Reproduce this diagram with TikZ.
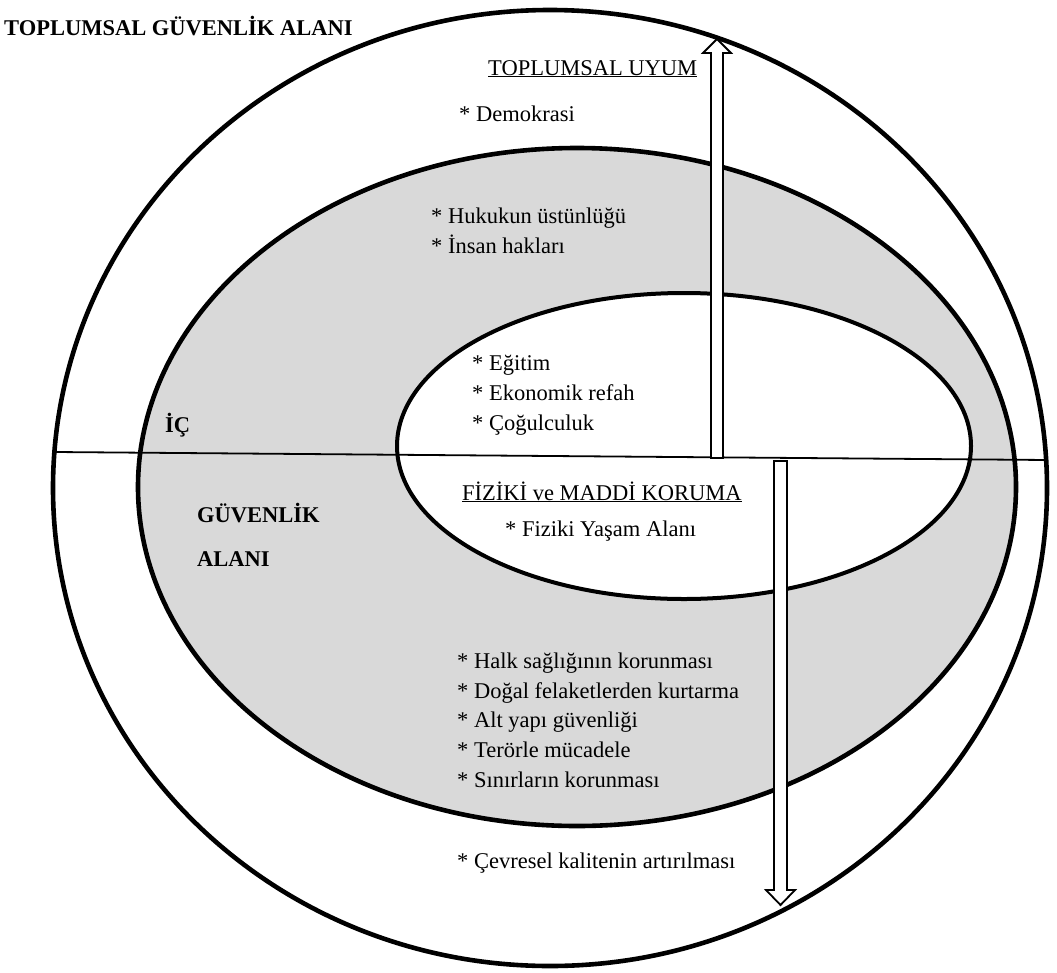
\documentclass[tikz,border=0pt]{standalone}
\usepackage{fontspec}
\setmainfont{Liberation Serif}
\begin{document}
\begin{tikzpicture}[x=1pt, y=-1pt,
        ring/.style={draw, line width=4.6pt},
        bar/.style={draw, line width=1.8pt, fill=white},
        txt/.style={anchor=base west, inner sep=0pt, font=\fontsize{22.5}{27}\selectfont},
        bold/.style={anchor=base west, inner sep=0pt, font=\fontsize{22.5}{27}\selectfont\bfseries}
    ]
        \useasboundingbox (0,0) rectangle (1057,972);

        % Halkalar
        \coordinate (outc) at (550,488);
        \coordinate (midc) at (577,487);
        \coordinate (inc) at (684,446);
        \draw[ring, fill=white] (outc) ellipse [x radius=497, y radius=478];
        \draw[ring, fill=gray!30] (midc) ellipse [x radius=439, y radius=339];
        \draw[ring, line width=4pt, fill=white] (inc) ellipse [x radius=287, y radius=153];

        % Ayirici cizgi
        \coordinate (lineL) at (55,452);
        \coordinate (lineR) at (1048,460);
        \draw[line width=1.8pt] (lineL) -- (lineR);

        % Oklar
        \draw[bar] (711,458) -- (711,53) -- (703,53) -- (717,39) -- (731,53) -- (723,53) -- (723,458) -- cycle;
        \draw[bar] (774,461) -- (774,890) -- (766,890) -- (780.5,905) -- (795,890) -- (787,890) -- (787,461) -- cycle;

        % Yazilar
        \node [bold] (title) at (4,35) {TOPLUMSAL GÜVENLİK ALANI};
        \node [txt] (uyum) at (488,75) {\underline{TOPLUMSAL UYUM}};
        \node [txt] (demo) at (459,121) {* Demokrasi};
        \node [txt] (hukuk) at (431,223) {* Hukukun üstünlüğü};
        \node [txt] (insan) at (431,253) {* İnsan hakları};
        \node [txt] (egitim) at (472,370) {* Eğitim};
        \node [txt] (refah) at (472,400) {* Ekonomik refah};
        \node [txt] (cogul) at (472,430) {* Çoğulculuk};
        \node [bold] (ic) at (165,432) {İÇ};
        \node [bold] (guv) at (197,522) {GÜVENLİK};
        \node [bold] (alan) at (197,566) {ALANI};
        \node [txt] (fiziki) at (462,500) {\underline{FİZİKİ ve MADDİ KORUMA}};
        \node [txt] (yasam) at (505,536) {* Fiziki Yaşam Alanı};
        \node [txt] (halk) at (457,668) {* Halk sağlığının korunması};
        \node [txt] (dogal) at (457,698) {* Doğal felaketlerden kurtarma};
        \node [txt] (altyapi) at (457,727) {* Alt yapı güvenliği};
        \node [txt] (teror) at (457,757) {* Terörle mücadele};
        \node [txt] (sinir) at (457,787) {* Sınırların korunması};
        \node [txt] (cevre) at (457,868) {* Çevresel kalitenin artırılması};
    \end{tikzpicture}
\end{document}
